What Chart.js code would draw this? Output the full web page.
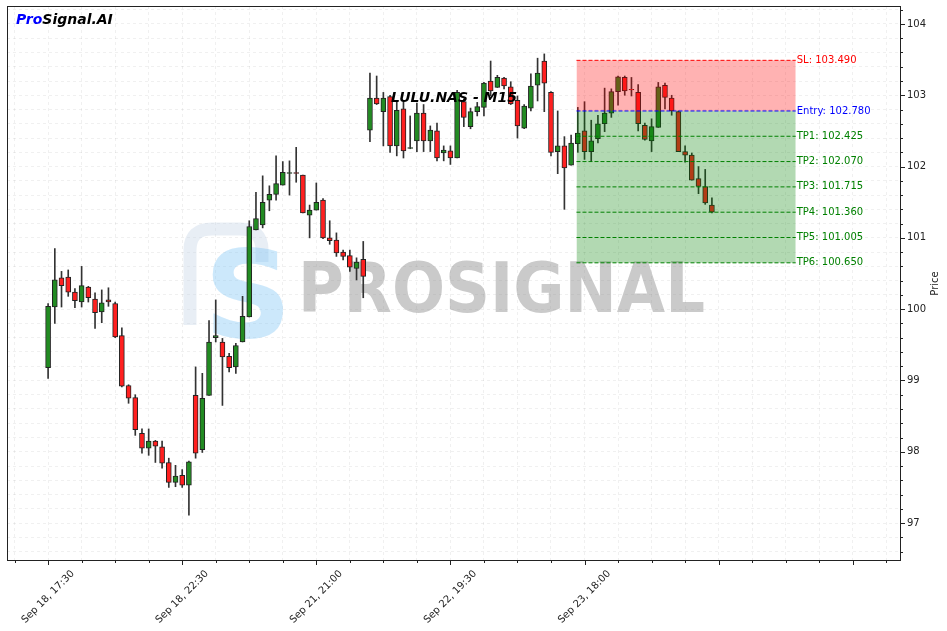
<!DOCTYPE html>
<html lang="en">
<head>
<meta charset="UTF-8">
<title>LULU.NAS - M15</title>
<script src="https://cdn.jsdelivr.net/npm/chart.js"></script>
<style>
    html, body { margin: 0; padding: 0; background: #fff; }
    #wrap { width: 947px; height: 631px; }
</style>
</head>
<body>
<div id="wrap"><canvas id="grafico"></canvas></div>
<script>
// rótulos do eixo x (um a cada 20 barras)
const tickLabels = ['Sep 18, 17:30', 'Sep 18, 22:30', 'Sep 21, 21:00', 'Sep 22, 19:30', 'Sep 23, 18:00'];

// velas M15
const opens = [99.18, 100.03, 100.44, 100.45, 100.24, 100.10, 100.31, 100.14, 99.96, 100.13,
    100.08, 99.63, 98.93, 98.76, 98.26, 98.05, 98.15, 98.07, 97.85, 97.57,
    97.67, 97.53, 98.79, 98.03, 98.79, 99.60, 99.54, 99.34, 99.19, 99.54,
    99.89, 101.11, 101.18, 101.53, 101.61, 101.74, 101.905, 101.915, 101.88, 101.32,
    101.39, 101.53, 101.00, 100.97, 100.80, 100.75, 100.57, 100.70, 102.51, 102.96,
    102.77, 102.98, 102.29, 102.81, 102.255, 102.36, 102.75, 102.36, 102.50, 102.19,
    102.22, 102.12, 102.91, 102.56, 102.77, 102.83, 103.20, 103.11, 103.24, 103.12,
    102.93, 102.54, 102.82, 103.14, 103.48, 103.04, 102.21, 102.29, 102.02, 102.32,
    102.50, 102.21, 102.39, 102.60, 102.75, 103.05, 103.25, 103.085, 103.04, 102.58,
    102.36, 102.55, 103.14, 102.96, 102.77, 102.21, 102.16, 101.83, 101.72, 101.46];
const highs = [100.08, 100.85, 100.53, 100.55, 100.29, 100.60, 100.32, 100.23, 100.27, 100.30,
    100.10, 99.74, 98.94, 98.80, 98.32, 98.32, 98.16, 98.15, 97.91, 97.81,
    97.75, 97.87, 99.19, 99.10, 99.84, 100.13, 99.59, 99.38, 99.52, 100.18,
    101.24, 101.64, 101.87, 101.73, 102.15, 102.07, 102.08, 102.27, 101.88, 101.46,
    101.77, 101.55, 101.24, 101.07, 100.83, 100.83, 100.72, 100.95, 103.31, 103.27,
    103.04, 103.00, 102.92, 102.92, 102.71, 102.89, 102.87, 102.57, 102.61, 102.29,
    102.29, 103.07, 102.95, 102.82, 102.90, 103.18, 103.48, 103.28, 103.25, 103.19,
    102.99, 102.87, 103.30, 103.52, 103.58, 103.05, 102.78, 102.42, 102.44, 102.83,
    102.91, 102.65, 102.72, 103.10, 103.09, 103.27, 103.27, 103.25, 103.15, 102.61,
    102.67, 103.18, 103.17, 103.00, 102.78, 102.29, 102.19, 102.00, 101.96, 101.56];
const lows = [99.03, 99.80, 100.03, 100.18, 100.02, 100.03, 100.10, 99.73, 99.81, 100.04,
    99.60, 98.91, 98.68, 98.23, 97.98, 97.95, 97.85, 97.77, 97.50, 97.51,
    97.50, 97.11, 97.91, 97.99, 98.79, 99.54, 98.65, 99.12, 99.10, 99.54,
    99.89, 101.11, 101.14, 101.38, 101.53, 101.74, 101.60, 101.78, 101.35, 101.00,
    101.39, 100.99, 100.91, 100.74, 100.69, 100.53, 100.41, 100.16, 102.35, 102.87,
    102.29, 102.20, 102.15, 102.12, 102.25, 102.21, 102.21, 102.21, 102.08, 102.08,
    102.03, 102.12, 102.56, 102.53, 102.71, 102.71, 102.99, 103.11, 103.09, 102.87,
    102.40, 102.53, 102.78, 102.92, 102.77, 102.15, 101.90, 101.40, 102.02, 102.20,
    102.10, 102.07, 102.33, 102.49, 102.69, 102.86, 103.00, 102.99, 102.50, 102.37,
    102.21, 102.55, 102.81, 102.72, 102.21, 102.06, 101.81, 101.62, 101.47, 101.35];
const closes = [100.04, 100.41, 100.33, 100.24, 100.12, 100.33, 100.16, 99.95, 100.09, 100.10,
    99.61, 98.92, 98.75, 98.31, 98.05, 98.15, 98.08, 97.84, 97.57, 97.66,
    97.53, 97.86, 97.98, 98.75, 99.54, 99.63, 99.33, 99.18, 99.49, 99.90,
    101.16, 101.27, 101.50, 101.61, 101.76, 101.92, 101.915, 101.905, 101.35, 101.39,
    101.50, 101.00, 100.96, 100.79, 100.74, 100.59, 100.66, 100.46, 102.96, 102.88,
    102.96, 102.29, 102.79, 102.22, 102.265, 102.75, 102.36, 102.51, 102.12, 102.23,
    102.12, 103.04, 102.69, 102.77, 102.84, 103.17, 103.06, 103.25, 103.13, 102.88,
    102.57, 102.85, 103.13, 103.31, 103.17, 102.20, 102.29, 101.98, 102.33, 102.47,
    102.21, 102.36, 102.60, 102.75, 103.05, 103.26, 103.06, 103.075, 102.60, 102.38,
    102.56, 103.12, 102.97, 102.78, 102.21, 102.16, 101.81, 101.72, 101.49, 101.36];

// níveis do sinal
const levelNames = ['SL', 'Entry', 'TP1', 'TP2', 'TP3', 'TP4', 'TP5', 'TP6'];
const levelValues = [103.490, 102.780, 102.425, 102.070, 101.715, 101.360, 101.005, 100.650];
const zoneStart = 78.8;
const zoneEnd = 111.5;

const levelColors = ['#ff0000', '#0000ff', '#008000', '#008000', '#008000', '#008000', '#008000', '#008000'];

const idx = opens.map((_, i) => i);
const bodies = idx.map(i => ({ x: i, y: [opens[i], closes[i]] }));
const wicks = idx.map(i => ({ x: i, y: [lows[i], highs[i]] }));
const bodyColors = idx.map(i => closes[i] >= opens[i] ? '#228b22' : '#ff2020');

// linhas de nível (índices 2..9 nos datasets)
const levelSets = levelValues.map((v, k) => {
    let fill = false, bg = 'transparent', order = 0;
    if (k === 0) { fill = 3; bg = 'rgba(255,0,0,0.3)'; order = 2; }
    if (k === 1) { fill = 9; bg = 'rgba(0,128,0,0.3)'; order = 1; }
    return {
        type: 'line',
        data: [{ x: zoneStart, y: v }, { x: zoneEnd, y: v }],
        borderColor: levelColors[k],
        borderWidth: 1,
        borderDash: [4, 2],
        pointRadius: 0,
        fill: fill,
        backgroundColor: bg,
        order: order
    };
});

const fonte = 'DejaVu Sans';

const desenho = {
    id: 'desenho',
    beforeDatasetsDraw(chart) {
        const ctx = chart.ctx;
        const a = chart.chartArea;
        ctx.save();
        ctx.beginPath();
        ctx.rect(a.left, a.top, a.right - a.left, a.bottom - a.top);
        ctx.clip();
        // marca d'água
        ctx.strokeStyle = 'rgba(190,205,225,0.35)';
        ctx.lineWidth = 13;
        ctx.lineJoin = 'round';
        ctx.beginPath();
        ctx.moveTo(190, 325);
        ctx.lineTo(190, 250);
        ctx.quadraticCurveTo(190, 229, 212, 229);
        ctx.lineTo(240, 229);
        ctx.quadraticCurveTo(262, 229, 262, 250);
        ctx.lineTo(262, 262);
        ctx.stroke();
        ctx.fillStyle = 'rgba(120,195,245,0.38)';
        ctx.font = 'bold 122px ' + fonte;
        ctx.textBaseline = 'alphabetic';
        ctx.textAlign = 'left';
        ctx.fillText('S', 204, 337);
        ctx.fillStyle = 'rgba(128,128,128,0.42)';
        ctx.font = 'bold 70px ' + fonte;
        const w = ctx.measureText('PROSIGNAL').width;
        ctx.translate(298, 312);
        ctx.scale(407 / w, 1);
        ctx.fillText('PROSIGNAL', 0, 0);
        ctx.restore();
    },
    afterDraw(chart) {
        const ctx = chart.ctx;
        const a = chart.chartArea;
        const xs = chart.scales.x;
        const ys = chart.scales.y;
        ctx.save();
        // moldura
        ctx.strokeStyle = '#222';
        ctx.lineWidth = 1;
        ctx.strokeRect(a.left + 0.5, a.top + 0.5, a.right - a.left - 1, a.bottom - a.top - 1);
        // marcas dos ticks
        ctx.beginPath();
        xs.ticks.forEach(t => {
            const px = Math.round(xs.getPixelForValue(t.value)) + 0.5;
            const len = t.value % 20 === 0 ? 4 : 2;
            ctx.moveTo(px, a.bottom);
            ctx.lineTo(px, a.bottom + len);
        });
        ys.ticks.forEach(t => {
            const py = Math.round(ys.getPixelForValue(t.value)) + 0.5;
            const major = Math.abs(t.value - Math.round(t.value)) < 1e-6;
            ctx.moveTo(a.right, py);
            ctx.lineTo(a.right + (major ? 4 : 2), py);
        });
        ctx.stroke();
        // rótulos do eixo x, rotacionados 45°
        ctx.fillStyle = '#222';
        ctx.font = '10px ' + fonte;
        ctx.textAlign = 'center';
        ctx.textBaseline = 'middle';
        tickLabels.forEach((lab, k) => {
            const px = xs.getPixelForValue(k * 20);
            const w = ctx.measureText(lab).width;
            const box = (w + 12) * Math.SQRT1_2;
            ctx.save();
            ctx.translate(px, a.bottom + 7 + box / 2);
            ctx.rotate(-Math.PI / 4);
            ctx.fillText(lab, 0, 0);
            ctx.restore();
        });
        // título do eixo y
        ctx.save();
        ctx.translate(935, (a.top + a.bottom) / 2);
        ctx.rotate(-Math.PI / 2);
        ctx.fillText('Price', 0, 0);
        ctx.restore();
        // rótulos dos níveis
        ctx.textAlign = 'left';
        const lx = xs.getPixelForValue(zoneEnd) + 1;
        levelValues.forEach((v, k) => {
            ctx.fillStyle = levelColors[k];
            ctx.fillText(levelNames[k] + ': ' + v.toFixed(3), lx, ys.getPixelForValue(v));
        });
        // títulos
        ctx.font = 'italic bold 14px ' + fonte;
        ctx.textBaseline = 'alphabetic';
        ctx.fillStyle = '#0000ff';
        ctx.fillText('Pro', 16, 24);
        const wp = ctx.measureText('Pro').width;
        ctx.fillStyle = '#000';
        ctx.fillText('Signal.AI', 16 + wp, 24);
        ctx.textAlign = 'center';
        ctx.fillText('LULU.NAS - M15', (a.left + a.right) / 2, 102);
        ctx.restore();
    }
};

const ctx = document.getElementById('grafico').getContext('2d');

new Chart(ctx, {
    type: 'bar',
    data: {
        datasets: [
            {
                data: wicks,
                backgroundColor: '#333',
                borderWidth: 0,
                barThickness: 1,
                grouped: false,
                order: 4
            },
            {
                data: bodies,
                backgroundColor: bodyColors,
                borderColor: '#222',
                borderWidth: 1,
                borderSkipped: false,
                barThickness: 5,
                grouped: false,
                order: 3
            },
            ...levelSets
        ]
    },
    options: {
        responsive: true,
        maintainAspectRatio: false,
        animation: false,
        layout: { padding: { left: 7, top: 6, right: 6, bottom: 0 } },
        plugins: {
            legend: { display: false },
            tooltip: { enabled: false }
        },
        scales: {
            x: {
                type: 'linear',
                min: -6.13,
                max: 127.2,
                offset: false,
                afterBuildTicks: s => {
                    s.ticks = [];
                    for (let v = -5; v <= 125; v += 5) s.ticks.push({ value: v });
                },
                afterFit: s => { s.height = 70; s.paddingLeft = 0; s.paddingRight = 0; },
                ticks: { display: false, autoSkip: false },
                grid: { color: 'rgba(0,0,0,0.06)', drawTicks: false, offset: false },
                border: { display: false, dash: [3, 3] }
            },
            y: {
                position: 'right',
                min: 96.468,
                max: 104.252,
                afterBuildTicks: s => {
                    s.ticks = [];
                    for (let k = 483; k <= 521; k++) s.ticks.push({ value: k / 5 });
                },
                afterFit: s => { s.width = 40; s.paddingTop = 0; s.paddingBottom = 0; },
                ticks: {
                    autoSkip: false,
                    padding: 6,
                    color: '#222',
                    font: { family: fonte, size: 10 },
                    callback: v => Math.abs(v - Math.round(v)) < 1e-6 ? String(Math.round(v)) : ''
                },
                grid: { color: 'rgba(0,0,0,0.06)', drawTicks: false },
                border: { display: false, dash: [3, 3] }
            }
        }
    },
    plugins: [desenho]
});
</script>
</body>
</html>
